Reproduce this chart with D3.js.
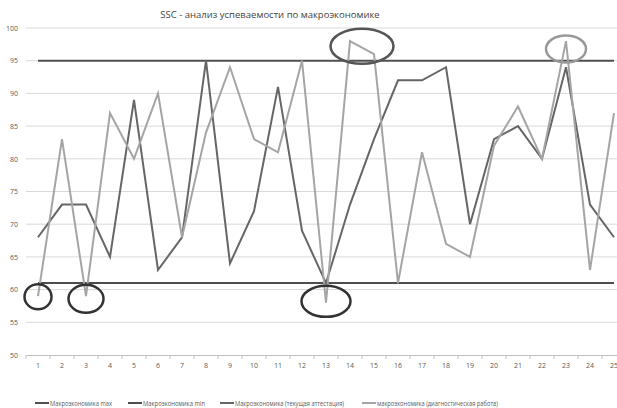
<!DOCTYPE html>
<html>
<head>
<meta charset="utf-8">
<script src="https://cdn.jsdelivr.net/npm/d3@7"></script>
<style>
  body { margin: 0; background: #fff; }
  text { font-family: "Open Sans", "Liberation Sans", sans-serif; fill: #595959; }
</style>
</head>
<body>
<div id="chart"></div>
<script>
var svgWidth = 617;
var svgHeight = 408;

// ============ data ============
var categories = d3.range(1, 26);
var yTicks = [50, 55, 60, 65, 70, 75, 80, 85, 90, 95, 100];

var maxValues = categories.map(function() { return 95; });
var minValues = categories.map(function() { return 61; });
var currentValues = [68, 73, 73, 65, 89, 63, 68, 95, 64, 72, 91, 69, 61,
                     73, 83, 92, 92, 94, 70, 83, 85, 80, 94, 73, 68];
var diagValues = [59, 83, 59, 87, 80, 90, 68, 84, 94, 83, 81, 95, 58,
                  98, 96, 61, 81, 67, 65, 82, 88, 80, 98, 63, 87];

var seriesNames = ["Макроэкономика max", "Макроэкономика min",
                   "Макроэкономика (текущая аттестация)", "макроэкономика (диагностическая работа)"];

// hand drawn circles on the original (category, value)
var marksCat = [1, 3, 13, 14.5, 23];
var marksVal = [58.9, 58.6, 58.2, 97.2, 96.8];

var series = [
  { name: seriesNames[0], values: maxValues, color: "#505050" },
  { name: seriesNames[1], values: minValues, color: "#4d4d4d" },
  { name: seriesNames[2], values: currentValues, color: "#666666" },
  { name: seriesNames[3], values: diagValues, color: "#a5a5a5" }
];

var svg = d3.select("#chart")
  .append("svg")
  .attr("width", svgWidth)
  .attr("height", svgHeight);

// scales
var xScale = d3.scaleBand()
  .domain(categories)
  .range([26, 626]);
var bw = xScale.bandwidth();
var xc = function(c) { return 26 + (c - 1 + 0.5) * bw; };

var yScale = d3.scaleLinear()
  .domain([50, 100])
  .range([355, 28]);

// title
svg.append("text")
  .attr("x", 270)
  .attr("y", 18)
  .attr("text-anchor", "middle")
  .style("font-size", "9.5px")
  .style("fill", "#444")
  .text("SSC - анализ успеваемости по макроэкономике");

// gridlines
svg.append("g")
  .selectAll("line")
  .data(yTicks.slice(1))
  .enter()
  .append("line")
  .attr("x1", 26)
  .attr("x2", svgWidth)
  .attr("y1", d => yScale(d))
  .attr("y2", d => yScale(d))
  .attr("stroke", "#d9d9d9")
  .attr("stroke-width", 1);

// y axis labels
var leftAxis = d3.axisLeft(yScale).tickValues(yTicks).tickSize(0).tickPadding(8);
var yAxis = svg.append("g")
  .attr("transform", "translate(26,0)")
  .call(leftAxis);
yAxis.select(".domain").remove();
yAxis.selectAll("text").style("font-size", "7px").style("fill", "#595959");

// x axis
var bottomAxis = d3.axisBottom(xScale).tickSize(0).tickPadding(8);
var xAxis = svg.append("g")
  .attr("transform", "translate(0," + yScale(50) + ")")
  .call(bottomAxis);
xAxis.select(".domain").attr("stroke", "#bfbfbf");
xAxis.selectAll("text").style("font-size", "7px").style("fill", "#595959");
xAxis.selectAll(".sep")
  .data(categories.concat([26]))
  .enter()
  .append("line")
  .attr("x1", d => 26 + (d - 1) * bw)
  .attr("x2", d => 26 + (d - 1) * bw)
  .attr("y1", 0)
  .attr("y2", 4)
  .attr("stroke", "#bfbfbf");

// lines
var line = d3.line()
  .x((d, i) => xc(categories[i]))
  .y(d => yScale(d));

svg.append("g")
  .selectAll("path")
  .data(series)
  .enter()
  .append("path")
  .attr("d", d => line(d.values))
  .attr("fill", "none")
  .attr("stroke", d => d.color)
  .attr("stroke-width", 2)
  .attr("stroke-linejoin", "miter");

// hand drawn ellipses
var markRx = [13.5, 17.5, 24.5, 31.5, 20];
var markRy = [12.5, 14, 15.5, 17.5, 13.5];
var markColor = ["#333", "#333", "#333", "#555", "#999"];
svg.append("g")
  .selectAll("ellipse")
  .data(marksCat)
  .enter()
  .append("ellipse")
  .attr("cx", d => xc(d))
  .attr("cy", (d, i) => yScale(marksVal[i]))
  .attr("rx", (d, i) => markRx[i])
  .attr("ry", (d, i) => markRy[i])
  .attr("fill", "none")
  .attr("stroke", (d, i) => markColor[i])
  .attr("stroke-width", 2.5);

// legend
var legendX = [35, 128, 220, 362];
var legendW = [62, 62, 109, 121];
var legend = svg.append("g")
  .selectAll("g")
  .data(series)
  .enter()
  .append("g")
  .attr("transform", (d, i) => "translate(" + legendX[i] + ",403)");

legend.append("line")
  .attr("x1", 0)
  .attr("x2", 14)
  .attr("y1", 0)
  .attr("y2", 0)
  .attr("stroke", d => d.color)
  .attr("stroke-width", 2);

legend.append("text")
  .attr("x", 15)
  .attr("y", 2.5)
  .attr("textLength", (d, i) => legendW[i])
  .attr("lengthAdjust", "spacingAndGlyphs")
  .style("font-size", "7px")
  .style("fill", "#595959")
  .text(d => d.name);
</script>
</body>
</html>
